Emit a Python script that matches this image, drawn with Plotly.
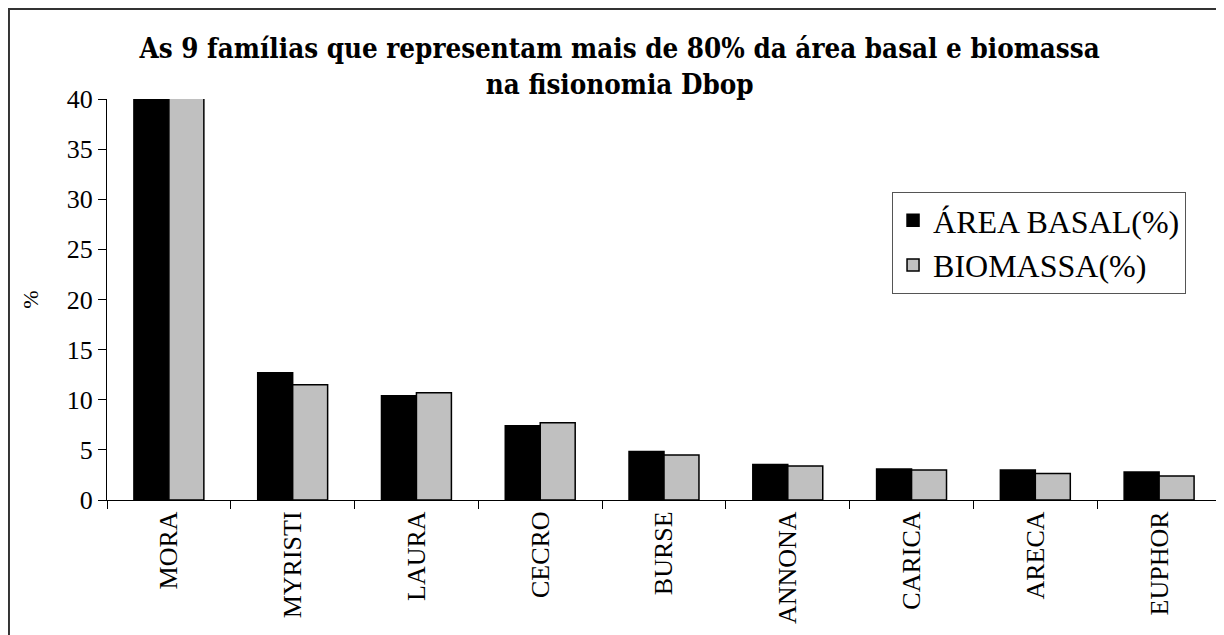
import plotly.graph_objects as go

familias = ["MORA", "MYRISTI", "LAURA", "CECRO", "BURSE", "ANNONA", "CARICA", "ARECA", "EUPHOR"]
area_basal = [43.5, 12.7, 10.4, 7.4, 4.85, 3.55, 3.1, 3.0, 2.8]
biomassa = [42.9, 11.5, 10.7, 7.7, 4.5, 3.4, 3.0, 2.65, 2.4]
y_ticks = [0, 5, 10, 15, 20, 25, 30, 35, 40]

serif = "Liberation Serif, Times New Roman, serif"

fig = go.Figure()
fig.add_trace(go.Bar(x=familias, y=area_basal, name="ÁREA BASAL(%)",
                     marker=dict(color="black", line=dict(color="black", width=1.5)),
                     legendgroup="a"))
fig.add_trace(go.Bar(x=familias, y=biomassa, name="BIOMASSA(%)",
                     marker=dict(color="#C0C0C0", line=dict(color="black", width=1.5)),
                     legendgroup="b"))

fig.update_layout(
    width=1216, height=627,
    margin=dict(l=99, r=3, t=91, b=135),
    paper_bgcolor="white", plot_bgcolor="white",
    font=dict(family=serif, color="black", size=26),
    barmode="group", bargap=0.435, bargroupgap=0,
    title=dict(text="<b>As 9 famílias que representam mais de 80% da área basal e biomassa<br>na fisionomia Dbop</b>",
               x=0.503, xanchor="center", xref="container",
               y=0.92, yanchor="top", yref="container",
               font=dict(family="DejaVu Serif Condensed, DejaVu Serif, serif", size=27.5,
                         color="black")),
    legend=dict(x=0.7047, y=0.768, xanchor="left", yanchor="top",
                bordercolor="#555", borderwidth=1, bgcolor="white",
                font=dict(family=serif, size=32, color="black"),
                tracegroupgap=8, traceorder="normal", itemwidth=30),
    showlegend=True,
)

fig.update_yaxes(range=[0, 40], tickvals=y_ticks, showgrid=False,
                 showline=True, linecolor="black", linewidth=1,
                 ticks="outside", ticklen=8, tickcolor="black",
                 title=dict(text="%", font=dict(family=serif, size=22), standoff=22),
                 zeroline=False)
fig.update_xaxes(showgrid=False, showline=True, linecolor="black", linewidth=1,
                 ticks="outside", ticklen=8, tickcolor="black",
                 tickson="boundaries", tickangle=-90)

# moldura externa do gráfico
fig.add_shape(type="rect", xref="paper", yref="paper",
              x0=-0.088, x1=1.01, y0=-0.6, y1=1.2244,
              line=dict(color="#333", width=2), fillcolor="rgba(0,0,0,0)")

fig.write_html("out.html")
